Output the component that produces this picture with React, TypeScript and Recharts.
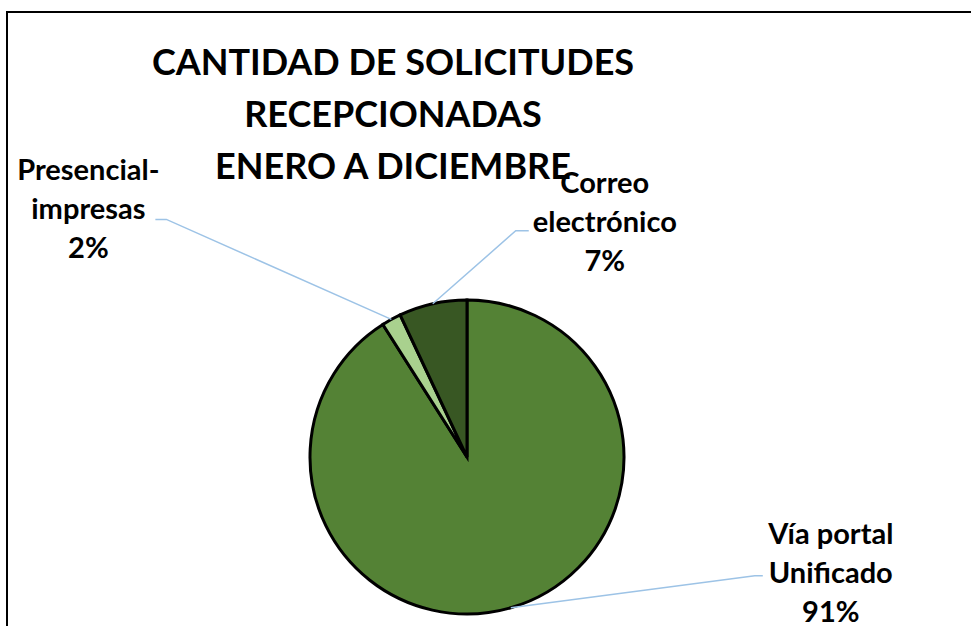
import React from "react";
import { PieChart, Pie, Cell } from "recharts";

const categories = ["Vía portal Unificado", "Presencial-impresas", "Correo electrónico"];
const labelLines = [["Vía portal", "Unificado"], ["Presencial-", "impresas"], ["Correo", "electrónico"]];
const values = [91, 2, 7];
const colors = ["#548235", "#A9D18E", "#385723"];
const titleLines = ["CANTIDAD DE SOLICITUDES", "RECEPCIONADAS", "ENERO A DICIEMBRE"];

// label placement relative to the slice's outer-arc point at midAngle
const labelOffsets = [
  { elbowDx: 244, elbowDy: -32, endDx: 252, textDx: 320, textDy: -64 },
  { elbowDx: -225, elbowDy: -100, endDx: -236, textDx: -303, textDy: -139 },
  { elbowDx: 83, elbowDy: -73, endDx: 96, textDx: 172, textDy: -111 },
];

const data = categories.map((name, i) => ({ name, value: values[i] }));

const W = 971;
const H = 626;
const FONT = "Lato, 'Liberation Sans', sans-serif";
const RAD = Math.PI / 180;

const renderLabel = (props: any) => {
  const { cx, cy, midAngle, outerRadius, percent, index } = props;
  const ax = cx + outerRadius * Math.cos(-midAngle * RAD);
  const ay = cy + outerRadius * Math.sin(-midAngle * RAD);
  const o = labelOffsets[index];
  const ex = ax + o.elbowDx;
  const ey = ay + o.elbowDy;
  const tx = ax + o.textDx;
  const ty = ay + o.textDy;
  const lines = [...labelLines[index], `${Math.round(percent * 100)}%`];
  return (
    <g key={`lbl-${index}`}>
      <path
        d={`M${ax},${ay} L${ex},${ey} L${ax + o.endDx},${ey}`}
        stroke="#9DC3E6"
        strokeWidth={1.5}
        fill="none"
      />
      <text
        x={tx}
        y={ty}
        textAnchor="middle"
        fontFamily={FONT}
        fontWeight={700}
        fontSize={29}
        fill="#000"
      >
        {lines.map((l, i) => (
          <tspan key={i} x={tx} y={ty + i * 39}>
            {l}
          </tspan>
        ))}
      </text>
    </g>
  );
};

export default function App() {
  return (
    <div style={{ position: "absolute", left: 0, top: 0, width: W, height: H, background: "#fff", overflow: "hidden" }}>
      <div style={{ position: "absolute", left: 0, top: 0 }}>
        <PieChart width={W} height={H} margin={{ top: 0, right: 0, bottom: 0, left: 0 }}>
          <Pie
            data={data}
            dataKey="value"
            nameKey="name"
            cx={467}
            cy={457}
            outerRadius={157}
            startAngle={90}
            endAngle={-270}
            stroke="#000"
            strokeWidth={3}
            label={renderLabel}
            labelLine={false}
            isAnimationActive={false}
          >
            {data.map((d, i) => (
              <Cell key={d.name} fill={colors[i]} />
            ))}
          </Pie>
        </PieChart>
      </div>
      <svg
        width={W}
        height={H}
        style={{ position: "absolute", left: 0, top: 0, pointerEvents: "none" }}
      >
        <rect x={7} y={12} width={W} height={H} fill="none" stroke="#000" strokeWidth={2} />
        <text textAnchor="middle" fontFamily={FONT} fontWeight={700} fontSize={36} fill="#000">
          {titleLines.map((t, i) => (
            <tspan key={i} x={393} y={75 + i * 52}>
              {t}
            </tspan>
          ))}
        </text>
      </svg>
    </div>
  );
}
